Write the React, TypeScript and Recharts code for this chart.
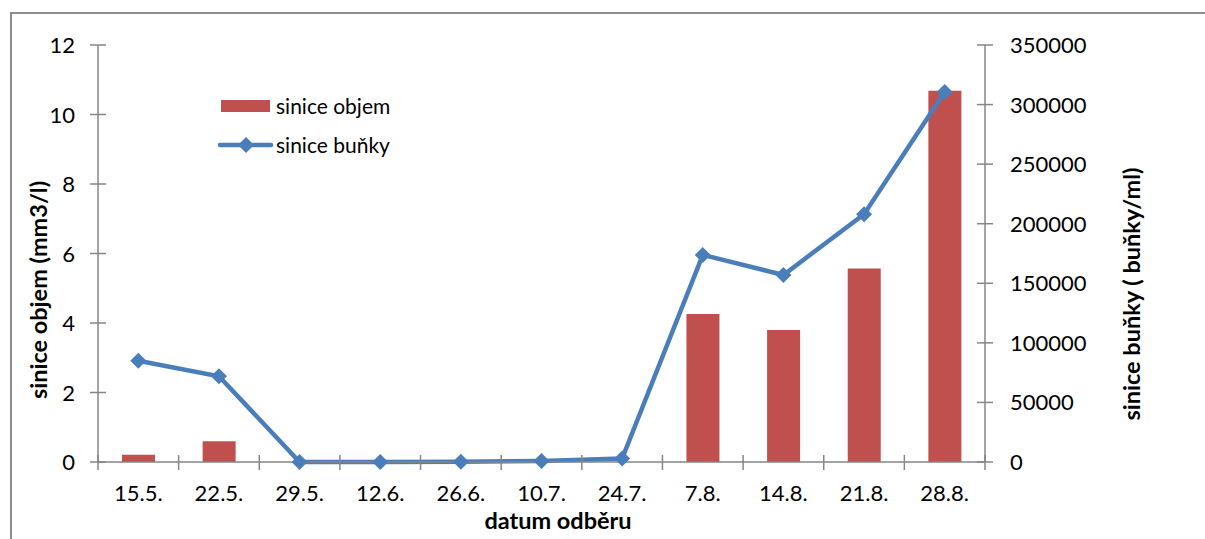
import React from 'react';
import { ComposedChart, Bar, Line, XAxis, YAxis, Legend, Label } from 'recharts';

const dates = ['15.5.', '22.5.', '29.5.', '12.6.', '26.6.', '10.7.', '24.7.', '7.8.', '14.8.', '21.8.', '28.8.'];
const objem = [0.21, 0.6, 0, 0, 0, 0, 0, 4.26, 3.8, 5.57, 10.68];
const bunky = [85000, 72000, 0, 0, 300, 900, 2900, 173800, 157000, 208000, 310500];
const leftTicks = [0, 2, 4, 6, 8, 10, 12];
const rightTicks = [0, 50000, 100000, 150000, 200000, 250000, 300000, 350000];

const data = dates.map((d, i) => ({ datum: d, objem: objem[i], bunky: bunky[i] }));

const FONT = 'Lato, "Open Sans", sans-serif';
const AXIS = '#868686';
const RED = '#C0504D';
const BLUE = '#4A7EBB';

// plot box
const PL = 98;
const PR = 985;
const PB = 462;
const STEP = (PR - PL) / dates.length;

const XTick = (props: any) => {
  const { x, index, payload } = props;
  const left = x - STEP / 2;
  return (
    <g>
      <line x1={left} x2={left} y1={PB - 7} y2={PB + 8} stroke={AXIS} strokeWidth={1.5} />
      {index === dates.length - 1 && (
        <line x1={x + STEP / 2} x2={x + STEP / 2} y1={PB - 7} y2={PB + 8} stroke={AXIS} strokeWidth={1.5} />
      )}
      <text x={x} y={501} textAnchor="middle" fontSize={22} fontFamily={FONT} fill="#000">
        {payload.value}
      </text>
    </g>
  );
};

const LeftTick = (props: any) => {
  const { y, payload } = props;
  return (
    <g>
      <line x1={PL - 8} x2={PL + 8} y1={y} y2={y} stroke={AXIS} strokeWidth={1.5} />
      <text x={PL - 23} y={y + 8} textAnchor="end" fontSize={22} fontFamily={FONT} fill="#000">
        {payload.value}
      </text>
    </g>
  );
};

const RightTick = (props: any) => {
  const { y, payload } = props;
  return (
    <g>
      <line x1={PR - 8} x2={PR + 8} y1={y} y2={y} stroke={AXIS} strokeWidth={1.5} />
      <text x={PR + 25} y={y + 8} textAnchor="start" fontSize={22} fontFamily={FONT} fill="#000">
        {payload.value}
      </text>
    </g>
  );
};

const Diamond = (props: any) => {
  const { cx, cy } = props;
  if (cx == null || cy == null) return null;
  const r = 8;
  return (
    <polygon
      points={`${cx},${cy - r} ${cx + r},${cy} ${cx},${cy + r} ${cx - r},${cy}`}
      fill={BLUE}
    />
  );
};

const LegendBox = () => (
  <svg width={220} height={75} style={{ display: 'block' }}>
    <rect x={6} y={15} width={49} height={12} fill={RED} />
    <text x={61} y={29} fontSize={21} fontFamily={FONT} fill="#000">sinice objem</text>
    <line x1={5} x2={56} y1={60} y2={60} stroke={BLUE} strokeWidth={4.5} strokeLinecap="round" />
    <polygon points="31,52 39,60 31,68 23,60" fill={BLUE} />
    <text x={61} y={68} fontSize={21} fontFamily={FONT} fill="#000">sinice buňky</text>
  </svg>
);

const titleStyle = { fontSize: 23.5, fontFamily: FONT, fontWeight: 700, fill: '#000' };

export default function App() {
  return (
    <div style={{ position: 'absolute', left: 0, top: 0, width: 1205, height: 539, background: '#fff' }}>
      <div
        style={{
          position: 'absolute',
          left: 10,
          top: 12,
          width: 1195,
          height: 527,
          borderTop: '2px solid #8c8c8c',
          borderLeft: '2px solid #8c8c8c',
          boxSizing: 'border-box',
        }}
      />
      <ComposedChart
        width={1205}
        height={539}
        data={data}
        margin={{ top: 45, right: 120, left: 58, bottom: 37 }}
        barSize={33}
      >
        <XAxis
          dataKey="datum"
          height={40}
          tick={<XTick />}
          tickLine={false}
          tickSize={0}
          tickMargin={0}
          axisLine={{ stroke: AXIS, strokeWidth: 1.5 }}
          interval={0}
        >
          <Label
            content={() => (
              <text x={558} y={529} textAnchor="middle" style={titleStyle}>
                datum odběru
              </text>
            )}
          />
        </XAxis>
        <YAxis
          yAxisId="left"
          orientation="left"
          width={40}
          domain={[0, 12]}
          ticks={leftTicks}
          tick={<LeftTick />}
          tickLine={false}
          axisLine={{ stroke: AXIS, strokeWidth: 1.5 }}
          interval={0}
        >
          <Label
            content={() => (
              <text
                transform="translate(38,290) rotate(-90)"
                textAnchor="middle"
                dominantBaseline="central"
                style={titleStyle}
              >
                sinice objem (mm3/l)
              </text>
            )}
          />
        </YAxis>
        <YAxis
          yAxisId="right"
          orientation="right"
          width={100}
          domain={[0, 350000]}
          ticks={rightTicks}
          tick={<RightTick />}
          tickLine={false}
          axisLine={{ stroke: AXIS, strokeWidth: 1.5 }}
          interval={0}
        >
          <Label
            content={() => (
              <text
                transform="translate(1131,294) rotate(-90)"
                textAnchor="middle"
                dominantBaseline="central"
                style={titleStyle}
              >
                sinice buňky ( buňky/ml)
              </text>
            )}
          />
        </YAxis>
        <Legend
          layout="vertical"
          align="center"
          verticalAlign="middle"
          wrapperStyle={{ left: 215, top: 85, width: 220 }}
          content={() => <LegendBox />}
        />
        <Bar yAxisId="left" dataKey="objem" name="sinice objem" fill={RED} isAnimationActive={false} />
        <Line
          yAxisId="right"
          dataKey="bunky"
          name="sinice buňky"
          type="linear"
          stroke={BLUE}
          strokeWidth={4.5}
          dot={<Diamond />}
          activeDot={false}
          isAnimationActive={false}
        />
      </ComposedChart>
    </div>
  );
}
